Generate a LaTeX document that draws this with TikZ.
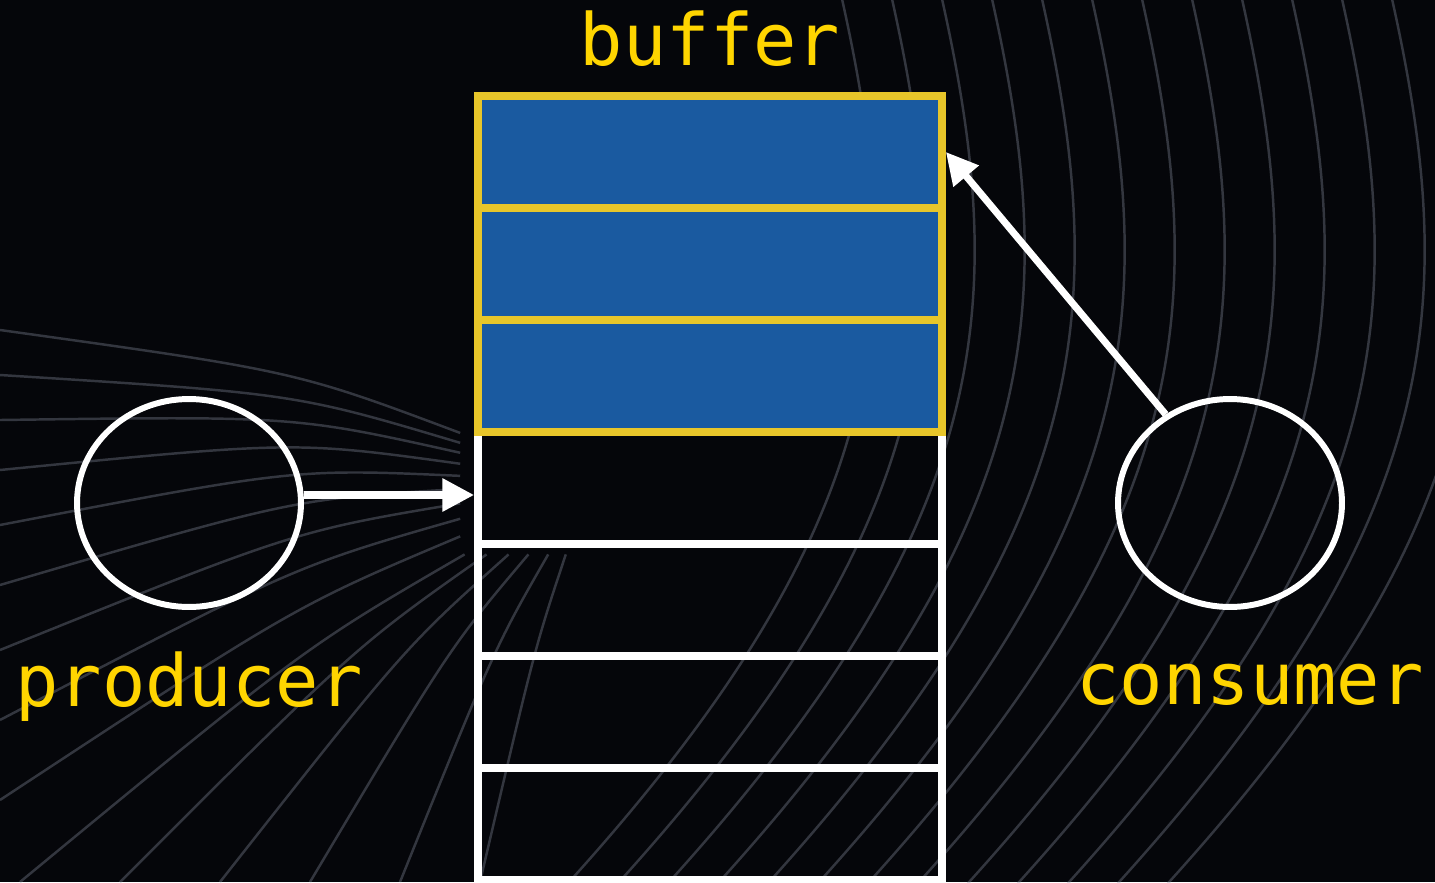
\documentclass[tikz,border=0pt]{standalone}
\usepackage{fontspec}
\newfontfamily\labelfont{DejaVu Sans Mono}
\usetikzlibrary{arrows.meta,shapes.geometric}
\definecolor{bgdark}{HTML}{05060A}
\definecolor{cellblue}{HTML}{1A5AA0}
\definecolor{cellgold}{HTML}{E8C62A}
\definecolor{labelgold}{HTML}{FFD500}
\definecolor{wire}{HTML}{8A92A2}
\tikzset{
  cellbox/.style={rectangle, inner sep=0pt, minimum width=9.28cm, minimum height=2.24cm, line width=4.5pt},
  fullcell/.style={cellbox, draw=cellgold, fill=cellblue},
  emptycell/.style={cellbox, draw=white},
  agent/.style={ellipse, draw=white, line width=3.4pt, inner sep=0pt, minimum width=4.48cm, minimum height=4.16cm},
  tag/.style={text=labelgold, font=\labelfont\fontsize{41}{41}\selectfont, anchor=base, inner sep=0pt},
  flow/.style={draw=white, line width=4pt, -{Triangle[length=18pt,width=18pt]}},
  wirestyle/.style={draw=wire, line width=1.4pt, opacity=0.35},
}
\begin{document}
\begin{tikzpicture}[x=0.02cm, y=-0.02cm]
  % backdrop
  \fill[bgdark] (0,0) rectangle (1435,882);
  \useasboundingbox (0,0) rectangle (1435,882);
  \begin{scope}
    \clip (0,0) rectangle (1435,882);
    % fan of faint lines spreading to the lower left
    \foreach \ex/\ey in {0/330,0/375,0/420,0/470,0/525,0/585,0/650,0/720,0/800,20/882,120/882,220/882,310/882,400/882,480/882}
      \draw[wirestyle] ({590+0.22*(\ex-590)},{462+0.22*(\ey-462)})
        .. controls ({(590+\ex)/2},{(462+\ey)/2-25}) .. (\ex,\ey);
    % sweeping curves on the right
    \foreach \i in {0,...,12} {
      \pgfmathsetmacro\xt{840+50*\i}
      \draw[wirestyle] (\xt,-10) .. controls (\xt+70,300) and (\xt+60,520) .. (\xt-280,892);
    }
  \end{scope}

  % buffer slots, empty ones first
  \node[emptycell] (cell4) at (710,488) {};
  \node[emptycell] (cell5) at (710,600) {};
  \node[emptycell] (cell6) at (710,712) {};
  \node[emptycell] (cell7) at (710,824) {};
  \node[fullcell] (cell1) at (710,152) {};
  \node[fullcell] (cell2) at (710,264) {};
  \node[fullcell] (cell3) at (710,376) {};

  % producer and consumer
  \node[agent] (prod) at (189,503) {};
  \node[agent] (cons) at (1230,503) {};

  % labels
  \node[tag] (buflabel) at (710,66) {buffer};
  \node[tag] (prodlabel) at (189,706) {producer};
  \node[tag] (conslabel) at (1250,704) {consumer};

  % data flow
  \draw[flow] (prod.4) -- (prod.4 -| cell4.west);
  \draw[flow] (cons.126) -- (cell1.east);
\end{tikzpicture}
\end{document}
